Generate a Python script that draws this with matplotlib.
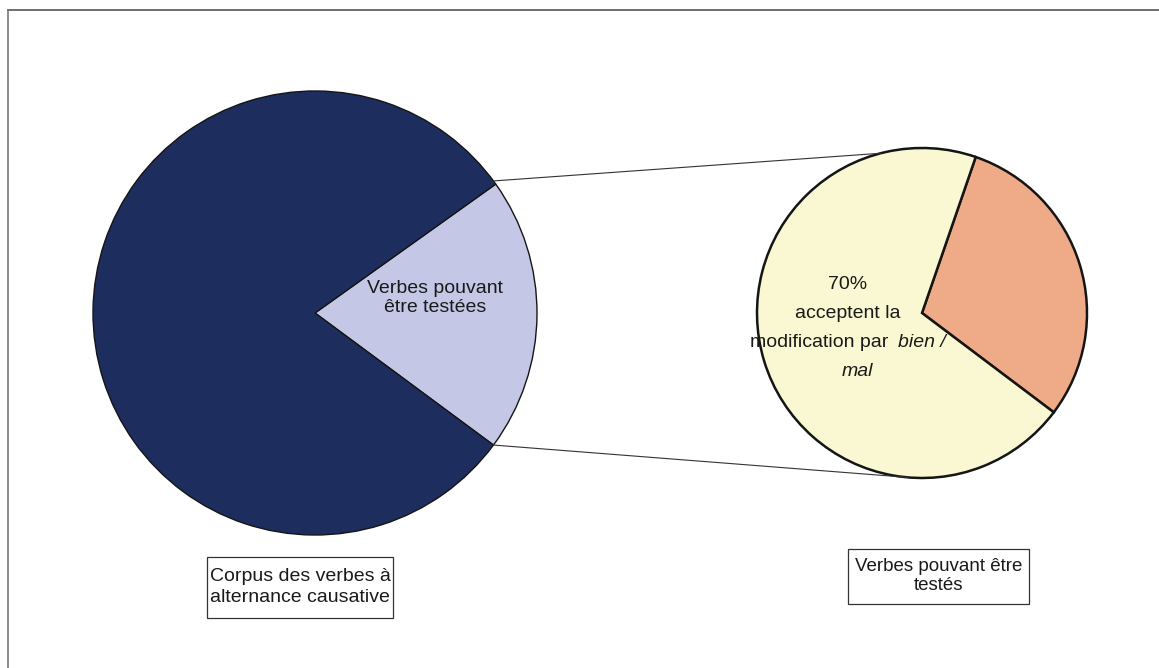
import numpy as np
import matplotlib
matplotlib.use("Agg")
import matplotlib.pyplot as plt
from matplotlib.patches import Rectangle, Circle

plt.rcParams['font.family'] = ['Liberation Sans', 'DejaVu Sans']

# ==========================
# DATA
# ==========================
corpus_labels = ["Verbes pouvant\nêtre testées", ""]
corpus_values = [20, 80]
tested_values = [30, 70]
tested_pct = "70%"
box_left = "Corpus des verbes à\nalternance causative"
box_right = "Verbes pouvant être\ntestés"

# ==========================
# STYLE / LAYOUT (pixel coords, y up)
# ==========================
W, H = 1159, 668
big_c, big_r = (315, H - 313), 222
small_c, small_r = (922, H - 313), 165
edge = "#151515"
txt = "#1a1a1a"

fig = plt.figure(figsize=(W / 100, H / 100), dpi=100)
ax = fig.add_axes([0, 0, 1, 1])

# big pie
ax.pie(corpus_values, colors=["#c4c8e6", "#1d2e5e"], startangle=-36.5,
       center=big_c, radius=big_r, frame=True,
       wedgeprops=dict(edgecolor=edge, linewidth=1.0))
ax.text(435, H - 298, corpus_labels[0], ha="center", va="center",
        fontsize=14, color=txt, linespacing=1.2)

# small pie
ax.pie(tested_values, colors=["#efab88", "#f9f8d2"], startangle=-37,
       center=small_c, radius=small_r, frame=True,
       wedgeprops=dict(edgecolor=edge, linewidth=1.8))

ax.set_xlim(0, W)
ax.set_ylim(0, H)
ax.set_aspect("auto")
ax.axis("off")

# text inside small pie, clipped to the circle
clip = Circle(small_c, small_r, transform=ax.transData)
fs = 14
cx = 848
lines = []
lines.append(ax.text(cx, H - 289, tested_pct, ha="center", va="baseline", fontsize=fs, color=txt))
lines.append(ax.text(cx, H - 318, "acceptent la", ha="center", va="baseline", fontsize=fs, color=txt))
lines.append(ax.text(cx + 46, H - 347, "modification par ", ha="right", va="baseline", fontsize=fs, color=txt))
lines.append(ax.text(cx + 50, H - 347, "bien /", ha="left", va="baseline", fontsize=fs, color=txt, style="italic"))
lines.append(ax.text(cx + 9, H - 376, "mal", ha="center", va="baseline", fontsize=fs, color=txt, style="italic"))
for t in lines:
    t.set_clip_path(clip)

# connector lines
a_big = np.radians(36.5)
for sgn, a_small in [(1, 104.5), (-1, -95)]:
    p1 = (big_c[0] + big_r * np.cos(a_big), big_c[1] + sgn * big_r * np.sin(a_big))
    a = np.radians(a_small)
    p2 = (small_c[0] + small_r * np.cos(a), small_c[1] + small_r * np.sin(a))
    ax.plot([p1[0], p2[0]], [p1[1], p2[1]], color="#333", lw=0.8)

# caption boxes
ax.add_patch(Rectangle((207, H - 618), 186, 61, fill=False, edgecolor="#333", lw=0.9))
ax.text(210, H - 587, box_left, ha="left", va="center", fontsize=14,
        color=txt, linespacing=1.25)
ax.add_patch(Rectangle((848, H - 604), 181, 55, fill=False, edgecolor="#333", lw=0.9))
ax.text(938.5, H - 576, box_right, ha="center", va="center", fontsize=13.5,
        color=txt, linespacing=1.2)

# outer frame (top + left)
ax.plot([8, W], [H - 10, H - 10], color="#555", lw=1.2)
ax.plot([8, 8], [0, H - 10], color="#777", lw=1.2)

fig.savefig("out.png", dpi=100)
